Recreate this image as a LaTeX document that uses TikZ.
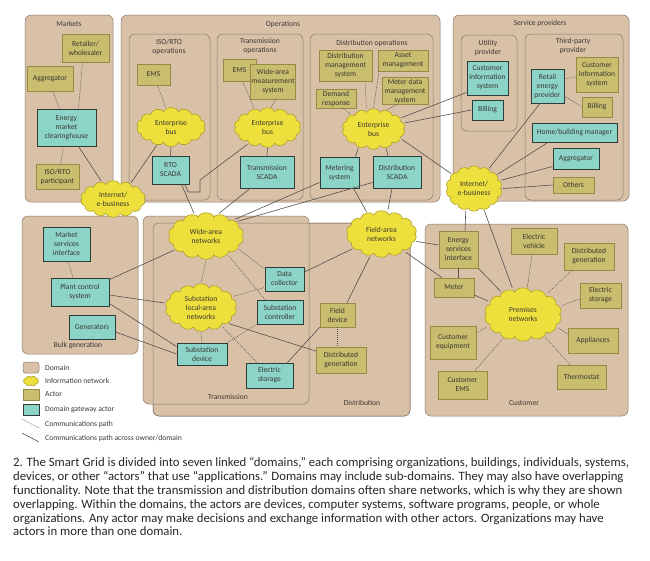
\documentclass[tikz,border=0pt]{standalone}
\usepackage{fontspec}
\setmainfont{Carlito}
\usepackage{xcolor}
\usetikzlibrary{shapes.geometric,calc}

\definecolor{domfill}{RGB}{217,193,168}
\definecolor{domborder}{RGB}{135,120,105}
\definecolor{actorfill}{RGB}{201,189,110}
\definecolor{actorborder}{RGB}{150,138,70}
\definecolor{gwfill}{RGB}{140,212,200}
\definecolor{gwborder}{RGB}{45,60,55}
\definecolor{netfill}{RGB}{238,224,60}
\definecolor{netborder}{RGB}{175,160,40}
\definecolor{linecol}{RGB}{85,80,75}
\definecolor{txtcol}{RGB}{60,55,50}

\pgfdeclarelayer{domains}
\pgfdeclarelayer{puffs}
\pgfsetlayers{domains,puffs,main}

% puffy outline round a network node: name, outer x radius, outer y radius, puffs
\newcommand\netpuffs[4]{%
  \pgfmathsetmacro\puffrx{#2-1.73*#3/#4}%
  \pgfmathsetmacro\puffry{#3-1.73*#2/#4}%
  \pgfmathsetmacro\puffstep{360/#4}%
  \begin{pgfonlayer}{puffs}
    \draw[puffline] ($(#1.center)+(0:\puffrx pt and \puffry pt)$)
      \foreach \k in {1,...,#4} {to[bend right=75] ($(#1.center)+({\k*\puffstep}:\puffrx pt and \puffry pt)$)} -- cycle;
  \end{pgfonlayer}}

\begin{document}
\begin{tikzpicture}[x=1pt, y=-1pt,
    font=\fontsize{7.6}{9}\selectfont, text=txtcol,
    sz/.style n args={2}{minimum width=#1pt, minimum height=#2pt},
    domainbox/.style={draw=domborder, fill=domfill, rounded corners=6pt, line width=0.5pt},
    domtitle/.style={inner sep=0pt, align=center},
    actorbox/.style={draw=actorborder, fill=actorfill, line width=0.6pt, align=center, inner sep=1pt},
    gatebox/.style={draw=gwborder, fill=gwfill, line width=0.9pt, align=center, inner sep=1pt},
    netcloud/.style={ellipse, align=center, inner sep=0pt},
    puffline/.style={draw=netborder, fill=netfill, line width=0.6pt},
    linkline/.style={draw=linecol, line width=0.6pt},
    commline/.style={draw=linecol, line width=0.5pt, dash pattern=on 1pt off 1pt}
]
  \useasboundingbox (0,0) rectangle (650,560);

  % domains
  \begin{pgfonlayer}{domains}
    \draw[domainbox] (25,15) rectangle (113,202);
    \draw[domainbox] (121,15) rectangle (440,202);
    \draw[domainbox] (129,34) rectangle (210,200);
    \draw[domainbox] (217,34) rectangle (303,200);
    \draw[domainbox] (310,34) rectangle (433,200);
    \draw[domainbox] (453,15) rectangle (629,201);
    \draw[domainbox] (461,35) rectangle (517,131);
    \draw[domainbox] (525,34) rectangle (623,200);
    \draw[domainbox] (22,216) rectangle (138,354);
    \draw[domainbox] (153,223) rectangle (410,416);
    \draw[domainbox] (143,216) rectangle (309,404);
    \draw[domborder, line width=0.5pt, rounded corners=6pt] (153,223) rectangle (410,416);
    \draw[domainbox] (425,224) rectangle (628,416);
  \end{pgfonlayer}

  \node[domtitle] (tMarkets) at (69,24) {Markets};
  \node[domtitle] (tOps) at (283,24) {Operations};
  \node[domtitle] (tIsoOps) at (169,47) {ISO/RTO\\operations};
  \node[domtitle] (tTransOps) at (260,46) {Transmission\\operations};
  \node[domtitle] (tDistOps) at (372,43) {Distribution operations};
  \node[domtitle] (tService) at (540,23) {Service providers};
  \node[domtitle] (tUtility) at (488,48) {Utility\\provider};
  \node[domtitle] (tThird) at (573,46) {Third-party\\provider};
  \node[domtitle] (tBulk) at (78,346) {Bulk generation};
  \node[domtitle] (tTrans) at (228,397) {Transmission};
  \node[domtitle] (tDist) at (362,403) {Distribution};
  \node[domtitle] (tCust) at (524,403) {Customer};

  % markets
  \node[actorbox, sz={47}{28}] (retail) at (85.5,48) {Retailer/\\wholesaler};
  \node[actorbox, sz={46}{25}] (aggM) at (50,78.5) {Aggregator};
  \node[gatebox, sz={59}{37}] (emc) at (66.5,127.5) {Energy\\market\\clearinghouse};
  \node[actorbox, sz={43}{25}] (isoPart) at (57.5,176.5) {ISO/RTO\\participant};

  % operations
  \node[actorbox, sz={33}{21}] (emsIso) at (153.5,74.5) {EMS};
  \node[netcloud, sz={71}{40}] (busIso) at (171,127) {Enterprise\\bus};
  \node[gatebox, sz={37}{28}] (rto) at (170.5,170) {RTO\\SCADA};

  \node[actorbox, sz={33}{22}] (emsTr) at (239.5,70) {EMS};
  \node[actorbox, sz={42}{35}] (wams) at (273,81.5) {Wide-area\\measurement\\system};
  \node[netcloud, sz={69}{41}] (busTr) at (267.5,127.5) {Enterprise\\bus};
  \node[gatebox, sz={54}{32}] (trScada) at (267,172) {Transmission\\SCADA};

  \node[actorbox, sz={53}{31}] (dms) at (345.5,65.5) {Distribution\\management\\system};
  \node[actorbox, sz={50}{21}] (asset) at (403,60.5) {Asset\\management};
  \node[actorbox, sz={46}{26}] (mdms) at (405,91) {Meter data\\management\\system};
  \node[actorbox, sz={40}{19}] (demand) at (336,98.5) {Demand\\response};
  \node[netcloud, sz={65}{42}] (busDi) at (373.5,129) {Enterprise\\bus};
  \node[gatebox, sz={39}{31}] (metSys) at (339.5,172.5) {Metering\\system};
  \node[gatebox, sz={48}{32}] (diScada) at (397,172) {Distribution\\SCADA};

  % service providers
  \node[gatebox, sz={41}{34}] (cisUt) at (487.5,78) {Customer\\information\\system};
  \node[gatebox, sz={31}{20}] (billUt) at (487.5,110) {Billing};
  \node[gatebox, sz={33}{34}] (retailEP) at (547.5,86) {Retail\\energy\\provider};
  \node[actorbox, sz={42}{35}] (cisTp) at (597,74.5) {Customer\\information\\system};
  \node[actorbox, sz={30}{20}] (billTp) at (597,107) {Billing};
  \node[gatebox, sz={85}{19}] (hbm) at (574.5,132.5) {Home/building manager};
  \node[gatebox, sz={46}{21}] (aggSp) at (576,158.5) {Aggregator};
  \node[actorbox, sz={41}{16}] (others) at (573.5,185) {Others};

  % internet clouds
  \node[netcloud, sz={67}{38}] (inetL) at (113,199) {Internet/\\e-business};
  \node[netcloud, sz={58}{47}] (inetR) at (474,188.5) {Internet/\\e-business};

  % bulk generation
  \node[gatebox, sz={47}{34}] (msi) at (66.5,244) {Market\\services\\interface};
  \node[gatebox, sz={58}{28}] (pcs) at (80,292) {Plant control\\system};
  \node[gatebox, sz={46}{24}] (gens) at (92,327) {Generators};

  % transmission
  \node[netcloud, sz={78}{48}] (wan) at (206,236) {Wide-area\\networks};
  \node[netcloud, sz={74}{49}] (slan) at (201,307.5) {Substation\\local-area\\networks};
  \node[gatebox, sz={39}{24}] (dataCol) at (284.5,279) {Data\\collector};
  \node[gatebox, sz={46}{24}] (subCtl) at (280,312) {Substation\\controller};
  \node[gatebox, sz={50}{22}] (subDev) at (202,354) {Substation\\device};
  \node[gatebox, sz={47}{25}] (storTr) at (269.5,375.5) {Electric\\storage};

  % distribution
  \node[netcloud, sz={73}{48}] (fan) at (381.5,234) {Field-area\\networks};
  \node[actorbox, sz={35}{24}] (fieldDev) at (337.5,315) {Field\\device};
  \node[actorbox, sz={50}{26}] (genDi) at (341,360) {Distributed\\generation};

  % customer
  \node[actorbox, sz={39}{37}] (esi) at (458.5,249.5) {Energy\\services\\interface};
  \node[actorbox, sz={40}{19}] (meter) at (454,287.5) {Meter};
  \node[actorbox, sz={46}{26}] (ev) at (534,241) {Electric\\vehicle};
  \node[actorbox, sz={50}{27}] (genCu) at (589,256.5) {Distributed\\generation};
  \node[actorbox, sz={41}{25}] (storCu) at (600.5,295.5) {Electric\\storage};
  \node[netcloud, sz={80}{55}] (premNet) at (523,314.5) {Premises\\networks};
  \node[actorbox, sz={46}{33}] (custEq) at (453,342.5) {Customer\\equipment};
  \node[actorbox, sz={50}{25}] (appl) at (593,340.5) {Appliances};
  \node[actorbox, sz={49}{28}] (custEms) at (462.5,385) {Customer\\EMS};
  \node[actorbox, sz={49}{24}] (thermo) at (581.5,377) {Thermostat};

  % cloud outlines
  \foreach \nm/\rx/\ry in {busIso/35.5/20, busTr/34.5/20.5, busDi/32.5/21, inetL/33.5/19,
      inetR/29/23.5, wan/39/24, slan/37/24.5, fan/36.5/24, premNet/40/27.5}
    {\netpuffs{\nm}{\rx}{\ry}{14}}

  % markets links
  \draw[commline] ([xshift=-3pt]retail.south) -- ([xshift=12pt]emc.north);
  \draw[commline] ([xshift=3pt]aggM.south) -- ([xshift=-7pt]emc.north);
  \draw[commline] ([xshift=-3pt]emc.south) -- ([xshift=3pt]isoPart.north);
  \draw[linkline] ([xshift=12pt]emc.south) -- (inetL);
  \draw[linkline] (inetL.42) -- (busIso.232);

  % operations links
  \draw[commline] ([xshift=4pt]emsIso.south) -- (busIso.105);
  \draw[linkline] (busIso.south) -- (rto.north);
  \draw[linkline] ([xshift=11pt]rto.south) -- (wan.118);
  \draw[linkline] (busTr.220) -- (200,180) -- (200,192) -- (188,192) -- ([xshift=14.5pt]rto.south);
  \draw[commline] ([xshift=3pt]emsTr.south) -- (busTr.125);
  \draw[commline] ([xshift=3pt]wams.south) -- (busTr.80);
  \draw[linkline] (busTr.south) -- (trScada.north);
  \draw[linkline] ([xshift=-17pt]trScada.south) -- (wan.60);
  \draw[commline] ([xshift=19.5pt]dms.south) -- (busDi.109);
  \draw[commline] ([xshift=-24pt]asset.south) -- (busDi.90);
  \draw[commline] ([xshift=-8pt]mdms.south) -- (busDi.55);
  \draw[commline] ([xshift=7pt]demand.south) -- (busDi.147);
  \draw[linkline] (busDi.231) -- ([xshift=16pt]metSys.north);
  \draw[linkline] (busDi.303) -- ([xshift=-9pt]diScada.north);
  \draw[linkline] (busDi.22) -- ([yshift=3pt]cisUt.south west);
  \draw[linkline] (busDi.11) -- (billUt.west);
  \draw[linkline] (busDi.340) -- (inetR.147);
  \draw[linkline] ([yshift=6pt]metSys.south west) -- (wan.30);
  \draw[linkline] ([yshift=6pt]diScada.south west) -- (wan.25);
  \draw[linkline] ([xshift=14pt]metSys.south) -- (fan.124);
  \draw[linkline] ([xshift=-5pt]diScada.south) -- (fan.75);

  % service provider links
  \draw[commline] ([yshift=7pt]retailEP.east) -- ([yshift=-2.5pt]cisTp.west);
  \draw[commline] ([yshift=-10pt]retailEP.east) -- (billTp.west);
  \draw[linkline] (inetR.53) -- ([xshift=-7.5pt]retailEP.south);
  \draw[linkline] (inetR.31) -- ([xshift=-26.5pt]hbm.south);
  \draw[linkline] (inetR.17) -- ([yshift=-8pt]aggSp.west);
  \draw[linkline] (inetR.0) -- (others.west);
  \draw[linkline] (inetR.250) -- ([xshift=6.5pt]esi.north);
  \draw[linkline] (inetR.295) -- (premNet.112);

  % customer links
  \draw[linkline] (fan.348) -- ([yshift=4.5pt]esi.west);
  \draw[linkline] (fan.323) -- ([xshift=-12pt]meter.north);
  \draw[linkline] (esi.south) -- (esi.south |- meter.north);
  \draw[linkline] (esi.south east) -- (premNet.134);
  \draw[linkline] ([yshift=-7.5pt]meter.east) -- (premNet.159);
  \draw[commline] ([xshift=-2pt]ev.south) -- (premNet.81);
  \draw[commline] ([xshift=8pt]genCu.south west) -- (premNet.41);
  \draw[commline] ([yshift=-3.5pt]storCu.west) -- (premNet.13);
  \draw[commline] ([yshift=6.5pt]appl.west) -- (premNet.339);
  \draw[commline] ([xshift=-11.5pt]thermo.north) -- (premNet.314);
  \draw[commline] ([xshift=12.5pt]custEms.north) -- (premNet.230);
  \draw[commline] ([yshift=9.5pt]custEq.east) -- (premNet.199);

  % distribution / transmission links
  \draw[linkline] (fan.243) -- ([xshift=9.5pt]fieldDev.north);
  \draw[linkline] (fan.207) -- ([yshift=7pt]dataCol.east);
  \draw[commline] (fieldDev.south) -- (fieldDev.south |- genDi.north);
  \draw[linkline] (fieldDev.south west) -- ([xshift=-6pt]storTr.north east);
  \draw[linkline] (slan.330) -- ([yshift=9pt]genDi.west);
  \draw[commline] (subCtl.south west) -- (subDev.north east);
  \draw[commline] (wan.338) -- ([yshift=10pt]dataCol.west);
  \draw[commline] (wan.319) -- ([xshift=-15pt]subCtl.north);
  \draw[commline] (wan.south) -- (slan.north);
  \draw[commline] (slan.19) -- ([yshift=4pt]dataCol.south west);
  \draw[commline] (slan.south) -- (subDev.north);
  \draw[commline] (slan.318) -- ([xshift=-12.5pt]storTr.north);

  % bulk generation links
  \draw[linkline] (wan.204) -- ([yshift=-2pt]pcs.north east);
  \draw[linkline] ([yshift=-3pt]pcs.east) -- (slan.173);
  \draw[linkline] ([yshift=3pt]pcs.south east) -- ([yshift=-4pt]subDev.north west);
  \draw[linkline] ([yshift=-5pt]gens.east) -- (subDev.west);
  \draw[commline] ([xshift=1.5pt]msi.south) -- ([xshift=-7pt]pcs.north);

  % legend
  \node[domainbox, rounded corners=2.5pt, sz={16}{11}] (lgDom) at (31,367.5) {};
  \node[anchor=west, inner sep=0pt] (lgDomT) at (45,367.5) {Domain};
  \node[netcloud, sz={17}{11}] (lgNet) at (31,381) {};
  \netpuffs{lgNet}{8.5}{5.5}{8}
  \node[anchor=west, inner sep=0pt] (lgNetT) at (45,381) {Information network};
  \node[actorbox, sz={16}{11}] (lgAct) at (31,394.5) {};
  \node[anchor=west, inner sep=0pt] (lgActT) at (45,394.5) {Actor};
  \node[gatebox, sz={16}{11}] (lgGw) at (31,409.5) {};
  \node[anchor=west, inner sep=0pt] (lgGwT) at (45,409.5) {Domain gateway actor};
  \coordinate (lgC1) at (22,419);
  \coordinate (lgC2) at (39,428);
  \draw[commline] (lgC1) -- (lgC2);
  \node[anchor=west, inner sep=0pt] (lgComT) at (45,424) {Communications path};
  \coordinate (lgL1) at (22,433);
  \coordinate (lgL2) at (39,442);
  \draw[linkline] (lgL1) -- (lgL2);
  \node[anchor=west, inner sep=0pt] (lgLinkT) at (45,438.5) {Communications path across owner/domain};

  % caption
  \node[anchor=north west, inner sep=0pt, align=left, text=black!85,
        font=\fontsize{12.75}{13.9}\selectfont] (caption) at (13,457) {%
    2. The Smart Grid is divided into seven linked “domains,” each comprising organizations, buildings, individuals, systems,\\
    devices, or other “actors” that use “applications.” Domains may include sub-domains. They may also have overlapping\\
    functionality. Note that the transmission and distribution domains often share networks, which is why they are shown\\
    overlapping. Within the domains, the actors are devices, computer systems, software programs, people, or whole\\
    organizations. Any actor may make decisions and exchange information with other actors. Organizations may have\\
    actors in more than one domain.};
\end{tikzpicture}
\end{document}
